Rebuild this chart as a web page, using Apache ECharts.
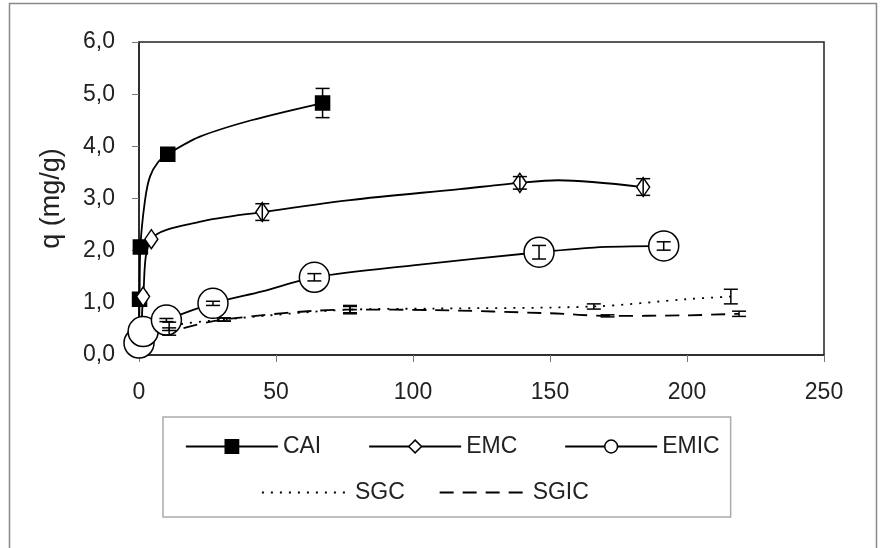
<!DOCTYPE html>
<html lang="en">
<head>
    <meta charset="UTF-8">
    <title>q (mg/g)</title>
    <script src="https://cdn.jsdelivr.net/npm/echarts@6/dist/echarts.min.js"></script>
    <style>
        html, body { margin: 0; padding: 0; background: #fff; }
        #main { width: 882px; height: 548px; }
    </style>
</head>
<body>
<div id="main"></div>
<script type="text/javascript">

    // axis ranges
    var xMin = 0, xMax = 250, xStep = 50;
    var yMin = 0, yMax = 6, yStep = 1;

    // CAI measured points + extra bends of the drawn curve
    var caiX = [0, 0.2, 0.5, 10.5, 67];
    var caiQ = [0.38, 1.07, 2.07, 3.85, 4.83];
    var caiErr = [0, 0, 0, 0.05, 0.28];
    var caiBendX = [2.2, 4, 7, 22, 41];
    var caiBendQ = [2.97, 3.42, 3.70, 4.18, 4.50];

    // EMC
    var emcX = [0.3, 0.8, 1.5, 4.5, 45, 139, 184];
    var emcQ = [0.19, 0.38, 1.12, 2.22, 2.74, 3.30, 3.22];
    var emcErr = [0, 0, 0, 0, 0.16, 0.12, 0.16];
    var emcBendX = [22, 77, 117, 153];
    var emcBendQ = [2.55, 2.97, 3.18, 3.35];

    // EMIC
    var emicX = [0, 1.5, 10, 27, 64, 146, 191.5];
    var emicQ = [0.23, 0.45, 0.67, 0.99, 1.49, 1.97, 2.09];
    var emicErr = [0, 0, 0.03, 0.04, 0.07, 0.13, 0.08];
    var emicBendX = [45, 100, 166];
    var emicBendQ = [1.22, 1.72, 2.06];

    // SGC
    var sgcX = [0, 11, 31, 77, 108, 166, 200, 216];
    var sgcQ = [0.30, 0.55, 0.68, 0.87, 0.89, 0.93, 1.07, 1.12];
    var sgcErr = [0, 0.08, 0.03, 0.08, 0, 0.05, 0, 0.14];

    // SGIC
    var sgicX = [0, 11, 31, 77, 108, 150, 171, 200, 219];
    var sgicQ = [0.30, 0.45, 0.68, 0.87, 0.86, 0.80, 0.75, 0.76, 0.79];
    var sgicErr = [0, 0.07, 0.03, 0.06, 0, 0, 0.02, 0, 0.05];

    var FONT = "'Liberation Sans', Arial, sans-serif";

    function pairs(xs, ys) {
        var out = [];
        for (var i = 0; i < xs.length; i++) out.push([xs[i], ys[i]]);
        return out;
    }
    // measured points and bends merged, ordered by x
    function curve(xs, ys, bx, by) {
        var pts = pairs(xs, ys).concat(pairs(bx || [], by || []));
        pts.sort(function (a, b) { return a[0] - b[0]; });
        return pts;
    }
    function errData(xs, ys, es) {
        var out = [];
        for (var i = 0; i < xs.length; i++) {
            if (es[i] > 0) out.push([xs[i], ys[i] - es[i], ys[i] + es[i]]);
        }
        return out;
    }
    function renderErr(params, api) {
        var lo = api.coord([api.value(0), api.value(1)]);
        var hi = api.coord([api.value(0), api.value(2)]);
        var w = 7;
        var st = {stroke: '#000', lineWidth: 1.5};
        return {
            type: 'group',
            children: [
                {type: 'line', shape: {x1: lo[0], y1: lo[1], x2: hi[0], y2: hi[1]}, style: st},
                {type: 'line', shape: {x1: lo[0] - w, y1: lo[1], x2: lo[0] + w, y2: lo[1]}, style: st},
                {type: 'line', shape: {x1: hi[0] - w, y1: hi[1], x2: hi[0] + w, y2: hi[1]}, style: st}
            ]
        };
    }

    function lineSeries(name, data, dash, symbol, fill) {
        return {
            name: name, type: 'line', data: data,
            smooth: 0.3,
            showSymbol: false, symbol: symbol,
            clip: false, z: 2,
            lineStyle: {color: '#000', width: 1.8, type: dash},
            itemStyle: {color: fill, borderColor: '#000', borderWidth: 1.5}
        };
    }
    function markerSeries(name, data, symbol, size, fill) {
        return {
            name: name, type: 'scatter', data: data,
            symbol: symbol, symbolSize: size, clip: false, z: 3,
            itemStyle: {color: fill, borderColor: '#000', borderWidth: 1.5, opacity: 1}
        };
    }
    function errSeries(name, data) {
        return {name: name, type: 'custom', data: data, renderItem: renderErr, clip: false, z: 4};
    }

    var myChart = echarts.init(document.getElementById('main'));
    var option = {
        animation: false,
        backgroundColor: '#fff',
        textStyle: {fontFamily: FONT},
        grid: {
            left: 139, right: 58, top: 42, bottom: 193,
            show: true, borderColor: '#222', borderWidth: 1.5
        },
        xAxis: {
            type: 'value', min: xMin, max: xMax, interval: xStep,
            axisLine: {show: true, lineStyle: {color: '#222', width: 1.5}},
            axisTick: {show: true, length: 7, lineStyle: {color: '#777'}},
            axisLabel: {fontSize: 23, color: '#222', margin: 26, fontFamily: FONT},
            splitLine: {show: false}
        },
        yAxis: {
            type: 'value', min: yMin, max: yMax, interval: yStep,
            name: 'q (mg/g)', nameLocation: 'middle', nameGap: 74,
            nameTextStyle: {fontSize: 27, color: '#222', fontFamily: FONT},
            axisLine: {show: true, lineStyle: {color: '#222', width: 1.5}},
            axisTick: {show: true, length: 7, lineStyle: {color: '#777'}},
            axisLabel: {
                fontSize: 23, color: '#222', margin: 24, fontFamily: FONT,
                formatter: function (v) { return v.toFixed(1).replace('.', ','); }
            },
            splitLine: {show: false}
        },
        legend: [{
            selectedMode: false,
            left: 163, top: 417,
            itemWidth: 92, itemHeight: 16, itemGap: 47,
            padding: [18, 11, 59, 22],
            borderColor: '#aaa', borderWidth: 1.5,
            textStyle: {fontSize: 23, color: '#222', fontFamily: FONT},
            data: [
                {name: 'CAI', itemStyle: {color: '#000', borderColor: '#000'}, lineStyle: {color: '#000', width: 1.8}},
                {name: 'EMC', itemStyle: {color: '#fff', borderColor: '#000', borderWidth: 1.5}, lineStyle: {color: '#000', width: 1.8}},
                {name: 'EMIC', itemStyle: {color: '#fff', borderColor: '#000', borderWidth: 1.5}, lineStyle: {color: '#000', width: 1.8}}
            ]
        }, {
            selectedMode: false,
            left: 261, top: 481,
            itemWidth: 88, itemHeight: 16, itemGap: 34,
            padding: 0,
            textStyle: {fontSize: 23, color: '#222', fontFamily: FONT},
            data: [
                {name: 'SGC', itemStyle: {opacity: 0}, lineStyle: {color: '#000', width: 1.8}},
                {name: 'SGIC', itemStyle: {opacity: 0}, lineStyle: {color: '#000', width: 1.8}}
            ]
        }],
        graphic: [{
            type: 'rect', silent: true,
            shape: {x: 9.5, y: 3.5, width: 867, height: 560},
            style: {fill: 'none', stroke: '#888', lineWidth: 1.5}
        }],
        series: [
            lineSeries('CAI', curve(caiX, caiQ, caiBendX, caiBendQ), 'solid', 'rect', '#000'),
            markerSeries('CAI', pairs(caiX, caiQ), 'rect', 14, '#000'),
            errSeries('CAI', errData(caiX, caiQ, caiErr)),

            lineSeries('EMC', curve(emcX, emcQ, emcBendX, emcBendQ), 'solid', 'diamond', '#fff'),
            markerSeries('EMC', pairs(emcX, emcQ), 'diamond', [13, 19], '#fff'),
            errSeries('EMC', errData(emcX, emcQ, emcErr)),

            lineSeries('EMIC', curve(emicX, emicQ, emicBendX, emicBendQ), 'solid', 'circle', '#fff'),
            markerSeries('EMIC', pairs(emicX, emicQ), 'circle', 30, '#fff'),
            errSeries('EMIC', errData(emicX, emicQ, emicErr)),

            lineSeries('SGC', curve(sgcX, sgcQ), [2, 7], 'circle', '#000'),
            errSeries('SGC', errData(sgcX, sgcQ, sgcErr)),

            lineSeries('SGIC', curve(sgicX, sgicQ), [14, 9], 'circle', '#000'),
            errSeries('SGIC', errData(sgicX, sgicQ, sgicErr))
        ]
    };
    option && myChart.setOption(option);
</script>
</body>
</html>
